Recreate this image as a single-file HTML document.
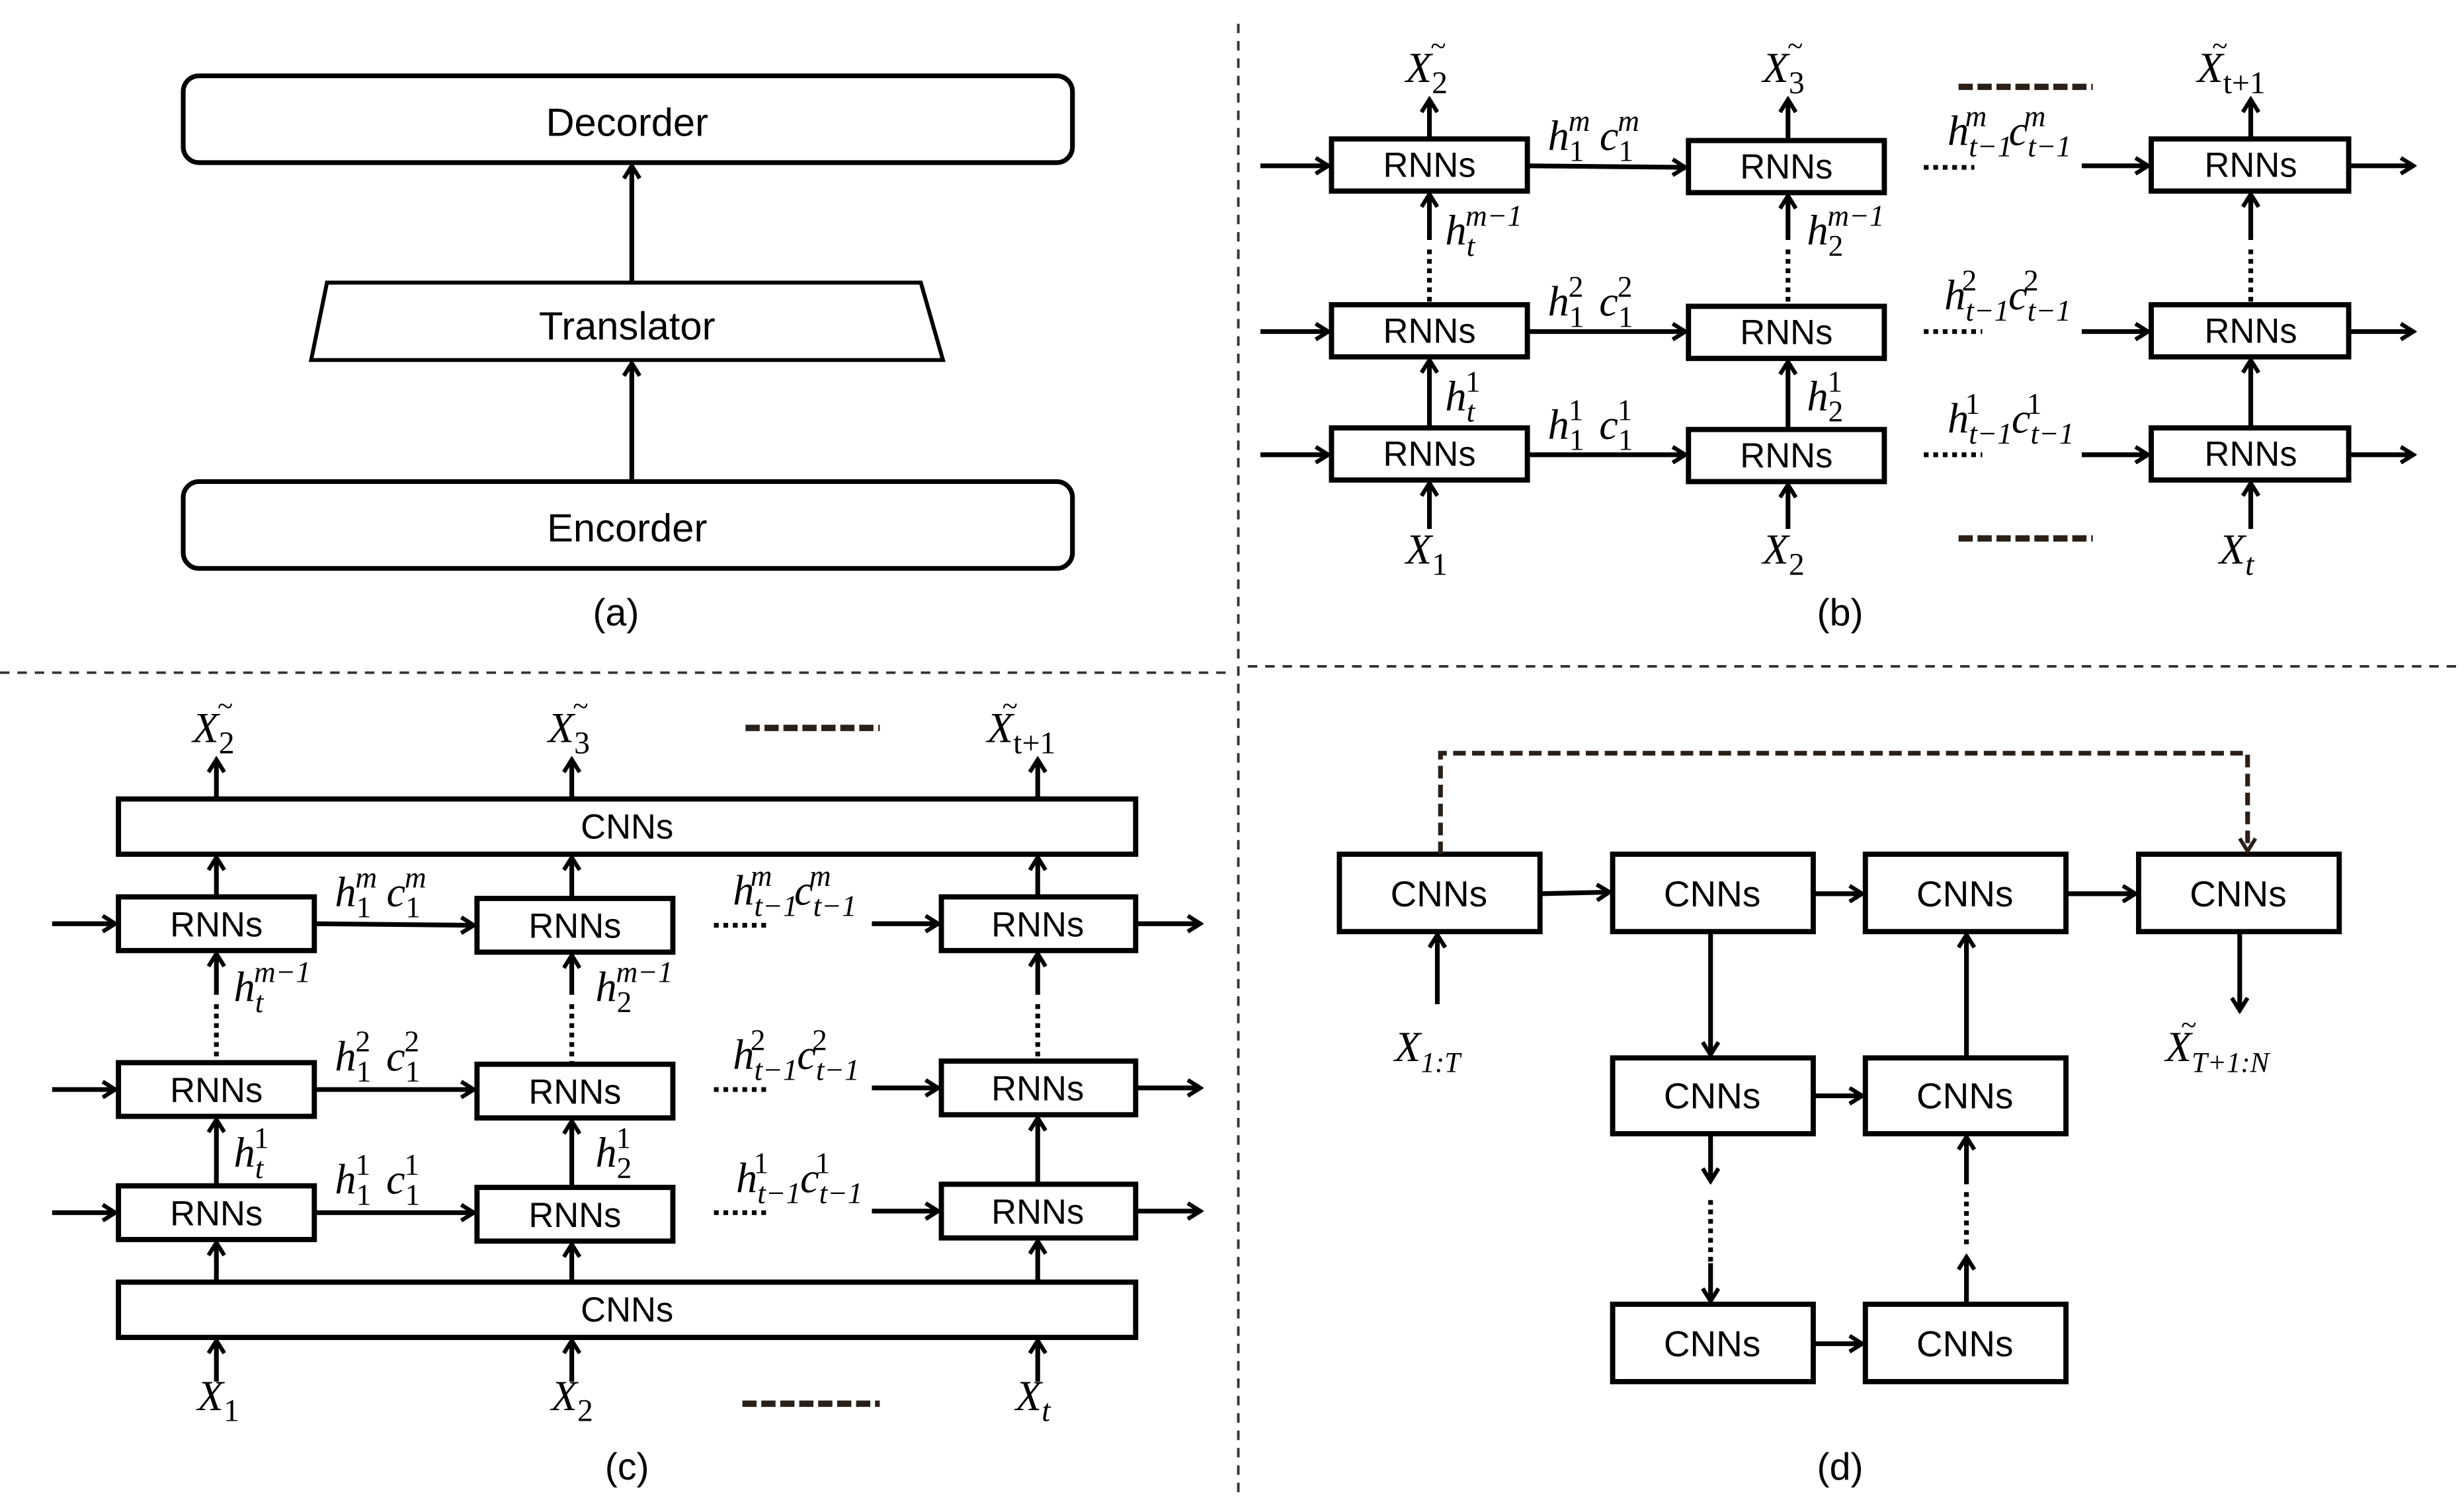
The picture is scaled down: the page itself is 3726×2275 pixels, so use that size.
<!DOCTYPE html>
<html><head><meta charset="utf-8"><style>
html,body{margin:0;padding:0;background:#fff;}
svg{display:block;}
text{font-family:"Liberation Sans",sans-serif;fill:#000;}
.m{font-family:"Liberation Serif",serif;font-style:italic;}
</style></head><body>
<svg width="3726" height="2275" viewBox="0 0 1560 952.5" xmlns="http://www.w3.org/2000/svg">
<defs>
<marker id="a" markerWidth="12" markerHeight="12" refX="10" refY="6" orient="auto" markerUnits="userSpaceOnUse">
<path d="M2,1 L10,6 L2,11" fill="none" stroke="#000" stroke-width="2.6"/>
</marker>
<marker id="ab" markerWidth="12" markerHeight="12" refX="10" refY="6" orient="auto" markerUnits="userSpaceOnUse">
<path d="M2,1 L10,6 L2,11" fill="none" stroke="#2a2018" stroke-width="2.4"/>
</marker>
</defs>
<g stroke="#000" stroke-width="3" fill="none">
<rect x="116" y="48" width="563" height="55" rx="10"/>
<rect x="116" y="305" width="563" height="55" rx="10"/>
<polygon points="207,179 583,179 597,228 197,228" stroke-width="2.5"/>
<line x1="400" y1="179" x2="400" y2="105" marker-end="url(#a)"/>
<line x1="400" y1="305" x2="400" y2="230" marker-end="url(#a)"/>
</g>
<text x="397" y="86" font-size="25" text-anchor="middle">Decorder</text>
<text x="397" y="215" font-size="25" text-anchor="middle">Translator</text>
<text x="397" y="343" font-size="25" text-anchor="middle">Encorder</text>
<text x="390" y="396" font-size="24" text-anchor="middle">(a)</text>

<g stroke="#333" stroke-width="1.6" stroke-dasharray="6,5" fill="none">
<line x1="784" y1="15" x2="784" y2="945"/>
<line x1="0" y1="426" x2="780" y2="426"/>
<line x1="790" y1="422" x2="1556" y2="422"/>
</g>

<!-- (b) -->
<g stroke="#000" stroke-width="3.3" fill="none">
<rect x="843" y="88" width="124" height="33"/><rect x="1069" y="89" width="124" height="33"/><rect x="1362" y="88" width="125" height="33"/>
<rect x="843" y="193" width="124" height="33"/><rect x="1069" y="194" width="124" height="33"/><rect x="1362" y="193" width="125" height="33"/>
<rect x="843" y="271" width="124" height="33"/><rect x="1069" y="272" width="124" height="33"/><rect x="1362" y="271" width="125" height="33"/>
</g>
<g stroke="#000" stroke-width="3" fill="none">
<line x1="798" y1="105" x2="841" y2="105" marker-end="url(#a)"/>
<line x1="798" y1="210" x2="841" y2="210" marker-end="url(#a)"/>
<line x1="798" y1="288" x2="841" y2="288" marker-end="url(#a)"/>
<line x1="967" y1="105" x2="1067" y2="106" marker-end="url(#a)"/>
<line x1="967" y1="210" x2="1067" y2="210" marker-end="url(#a)"/>
<line x1="967" y1="288" x2="1067" y2="288" marker-end="url(#a)"/>
<line x1="1318" y1="105" x2="1360" y2="105" marker-end="url(#a)"/>
<line x1="1318" y1="210" x2="1360" y2="210" marker-end="url(#a)"/>
<line x1="1318" y1="288" x2="1360" y2="288" marker-end="url(#a)"/>
<line x1="1487" y1="105" x2="1528" y2="105" marker-end="url(#a)"/>
<line x1="1487" y1="210" x2="1528" y2="210" marker-end="url(#a)"/>
<line x1="1487" y1="288" x2="1528" y2="288" marker-end="url(#a)"/>
<line x1="905" y1="88" x2="905" y2="63" marker-end="url(#a)"/>
<line x1="1132" y1="89" x2="1132" y2="63" marker-end="url(#a)"/>
<line x1="1425" y1="88" x2="1425" y2="63" marker-end="url(#a)"/>
<line x1="905" y1="152" x2="905" y2="123" marker-end="url(#a)"/>
<line x1="1132" y1="152" x2="1132" y2="124" marker-end="url(#a)"/>
<line x1="1425" y1="152" x2="1425" y2="123" marker-end="url(#a)"/>
<line x1="905" y1="271" x2="905" y2="228" marker-end="url(#a)"/>
<line x1="1132" y1="272" x2="1132" y2="229" marker-end="url(#a)"/>
<line x1="1425" y1="271" x2="1425" y2="228" marker-end="url(#a)"/>
<line x1="905" y1="335" x2="905" y2="306" marker-end="url(#a)"/>
<line x1="1132" y1="335" x2="1132" y2="307" marker-end="url(#a)"/>
<line x1="1425" y1="335" x2="1425" y2="306" marker-end="url(#a)"/>
</g>
<g stroke="#000" stroke-width="3" stroke-dasharray="3,3" fill="none">
<line x1="905" y1="158" x2="905" y2="192"/><line x1="1132" y1="158" x2="1132" y2="192"/><line x1="1425" y1="158" x2="1425" y2="192"/>
<line x1="1218" y1="106" x2="1250" y2="106"/><line x1="1218" y1="210" x2="1255" y2="210"/><line x1="1218" y1="288" x2="1255" y2="288"/>
</g>
<g stroke="#2a2018" stroke-width="4" stroke-dasharray="9,3" fill="none">
<line x1="1240" y1="55" x2="1325" y2="55"/><line x1="1240" y1="341" x2="1325" y2="341"/>
</g>
<g font-size="22" text-anchor="middle">
<text x="905" y="112">RNNs</text><text x="1131" y="113">RNNs</text><text x="1425" y="112">RNNs</text>
<text x="905" y="217">RNNs</text><text x="1131" y="218">RNNs</text><text x="1425" y="217">RNNs</text>
<text x="905" y="295">RNNs</text><text x="1131" y="296">RNNs</text><text x="1425" y="295">RNNs</text>
</g>
<g font-size="27">
<text class="m" x="890" y="52">X<tspan font-size="20" dy="7" font-style="normal">2</tspan><tspan font-size="18" dx="-11" dy="-24">~</tspan></text>
<text class="m" x="1116" y="52">X<tspan font-size="20" dy="7" font-style="normal">3</tspan><tspan font-size="18" dx="-11" dy="-24">~</tspan></text>
<text class="m" x="1391" y="52">X<tspan font-size="20" dy="7" font-style="normal">t+1</tspan><tspan font-size="18" dx="-34" dy="-24">~</tspan></text>
<text class="m" x="890" y="357">X<tspan font-size="20" dy="7" font-style="normal">1</tspan></text>
<text class="m" x="1116" y="357">X<tspan font-size="20" dy="7" font-style="normal">2</tspan></text>
<text class="m" x="1405" y="357">X<tspan font-size="20" dy="7">t</tspan></text>
<text class="m" x="980" y="95">h<tspan font-size="19" dy="7" font-style="normal">1</tspan><tspan font-size="19" dx="-10" dy="-19">m</tspan><tspan dx="6" dy="12">c</tspan><tspan font-size="19" dy="7" font-style="normal">1</tspan><tspan font-size="19" dx="-10" dy="-19">m</tspan></text>
<text class="m" x="980" y="200">h<tspan font-size="19" dy="7" font-style="normal">1</tspan><tspan font-size="19" dx="-10" dy="-19" font-style="normal">2</tspan><tspan dx="10" dy="12">c</tspan><tspan font-size="19" dy="7" font-style="normal">1</tspan><tspan font-size="19" dx="-10" dy="-19" font-style="normal">2</tspan></text>
<text class="m" x="980" y="278">h<tspan font-size="19" dy="7" font-style="normal">1</tspan><tspan font-size="19" dx="-10" dy="-19" font-style="normal">1</tspan><tspan dx="10" dy="12">c</tspan><tspan font-size="19" dy="7" font-style="normal">1</tspan><tspan font-size="19" dx="-10" dy="-19" font-style="normal">1</tspan></text>
<text class="m" x="915" y="155">h<tspan font-size="19" dy="7">t</tspan><tspan font-size="19" dx="-6" dy="-19">m−1</tspan></text>
<text class="m" x="1144" y="155">h<tspan font-size="19" dy="7" font-style="normal">2</tspan><tspan font-size="19" dx="-10" dy="-19">m−1</tspan></text>
<text class="m" x="915" y="260">h<tspan font-size="19" dy="7">t</tspan><tspan font-size="19" dx="-6" dy="-19" font-style="normal">1</tspan></text>
<text class="m" x="1144" y="260">h<tspan font-size="19" dy="7" font-style="normal">2</tspan><tspan font-size="19" dx="-10" dy="-19" font-style="normal">1</tspan></text>
<text class="m" x="1233" y="92">h<tspan font-size="19" dy="7">t−1</tspan><tspan font-size="19" dx="-30" dy="-19">m</tspan><tspan dx="14" dy="12">c</tspan><tspan font-size="19" dy="7">t−1</tspan><tspan font-size="19" dx="-30" dy="-19">m</tspan></text>
<text class="m" x="1231" y="196">h<tspan font-size="19" dy="7">t−1</tspan><tspan font-size="19" dx="-30" dy="-19" font-style="normal">2</tspan><tspan dx="20" dy="12">c</tspan><tspan font-size="19" dy="7">t−1</tspan><tspan font-size="19" dx="-30" dy="-19" font-style="normal">2</tspan></text>
<text class="m" x="1233" y="274">h<tspan font-size="19" dy="7">t−1</tspan><tspan font-size="19" dx="-30" dy="-19" font-style="normal">1</tspan><tspan dx="20" dy="12">c</tspan><tspan font-size="19" dy="7">t−1</tspan><tspan font-size="19" dx="-30" dy="-19" font-style="normal">1</tspan></text>
</g>
<text x="1165" y="396" font-size="24" text-anchor="middle">(b)</text>

<!-- (c) -->
<g stroke="#000" stroke-width="3.3" fill="none">
<rect x="75" y="506" width="644" height="35"/>
<rect x="75" y="812" width="644" height="35"/>
<rect x="75" y="568" width="124" height="34"/><rect x="302" y="569" width="124" height="34"/><rect x="596" y="568" width="123" height="34"/>
<rect x="75" y="673" width="124" height="34"/><rect x="302" y="674" width="124" height="34"/><rect x="596" y="672" width="123" height="34"/>
<rect x="75" y="751" width="124" height="34"/><rect x="302" y="752" width="124" height="34"/><rect x="596" y="750" width="123" height="34"/>
</g>
<g stroke="#000" stroke-width="3" fill="none">
<line x1="33" y1="585" x2="73" y2="585" marker-end="url(#a)"/>
<line x1="33" y1="690" x2="73" y2="690" marker-end="url(#a)"/>
<line x1="33" y1="768" x2="73" y2="768" marker-end="url(#a)"/>
<line x1="199" y1="585" x2="300" y2="586" marker-end="url(#a)"/>
<line x1="199" y1="690" x2="300" y2="690" marker-end="url(#a)"/>
<line x1="199" y1="768" x2="300" y2="768" marker-end="url(#a)"/>
<line x1="552" y1="585" x2="594" y2="585" marker-end="url(#a)"/>
<line x1="552" y1="689" x2="594" y2="689" marker-end="url(#a)"/>
<line x1="552" y1="767" x2="594" y2="767" marker-end="url(#a)"/>
<line x1="719" y1="585" x2="760" y2="585" marker-end="url(#a)"/>
<line x1="719" y1="689" x2="760" y2="689" marker-end="url(#a)"/>
<line x1="719" y1="767" x2="760" y2="767" marker-end="url(#a)"/>
<line x1="137" y1="506" x2="137" y2="481" marker-end="url(#a)"/>
<line x1="362" y1="506" x2="362" y2="481" marker-end="url(#a)"/>
<line x1="657" y1="506" x2="657" y2="481" marker-end="url(#a)"/>
<line x1="137" y1="568" x2="137" y2="543" marker-end="url(#a)"/>
<line x1="362" y1="569" x2="362" y2="543" marker-end="url(#a)"/>
<line x1="657" y1="568" x2="657" y2="543" marker-end="url(#a)"/>
<line x1="137" y1="630" x2="137" y2="604" marker-end="url(#a)"/>
<line x1="362" y1="630" x2="362" y2="605" marker-end="url(#a)"/>
<line x1="657" y1="630" x2="657" y2="604" marker-end="url(#a)"/>
<line x1="137" y1="751" x2="137" y2="709" marker-end="url(#a)"/>
<line x1="362" y1="752" x2="362" y2="710" marker-end="url(#a)"/>
<line x1="657" y1="750" x2="657" y2="708" marker-end="url(#a)"/>
<line x1="137" y1="812" x2="137" y2="787" marker-end="url(#a)"/>
<line x1="362" y1="812" x2="362" y2="788" marker-end="url(#a)"/>
<line x1="657" y1="812" x2="657" y2="786" marker-end="url(#a)"/>
<line x1="137" y1="875" x2="137" y2="849" marker-end="url(#a)"/>
<line x1="362" y1="875" x2="362" y2="849" marker-end="url(#a)"/>
<line x1="657" y1="875" x2="657" y2="849" marker-end="url(#a)"/>
</g>
<g stroke="#000" stroke-width="3" stroke-dasharray="3,3" fill="none">
<line x1="137" y1="636" x2="137" y2="672"/><line x1="362" y1="636" x2="362" y2="673"/><line x1="657" y1="636" x2="657" y2="671"/>
<line x1="452" y1="586" x2="485" y2="586"/><line x1="452" y1="690" x2="485" y2="690"/><line x1="452" y1="768" x2="485" y2="768"/>
</g>
<g stroke="#2a2018" stroke-width="4" stroke-dasharray="9,3" fill="none">
<line x1="472" y1="461" x2="557" y2="461"/><line x1="470" y1="889" x2="557" y2="889"/>
</g>
<g font-size="22" text-anchor="middle">
<text x="397" y="531">CNNs</text><text x="397" y="837">CNNs</text>
<text x="137" y="593">RNNs</text><text x="364" y="594">RNNs</text><text x="657" y="593">RNNs</text>
<text x="137" y="698">RNNs</text><text x="364" y="699">RNNs</text><text x="657" y="697">RNNs</text>
<text x="137" y="776">RNNs</text><text x="364" y="777">RNNs</text><text x="657" y="775">RNNs</text>
</g>
<g font-size="27">
<text class="m" x="122" y="470">X<tspan font-size="20" dy="7" font-style="normal">2</tspan><tspan font-size="18" dx="-11" dy="-24">~</tspan></text>
<text class="m" x="347" y="470">X<tspan font-size="20" dy="7" font-style="normal">3</tspan><tspan font-size="18" dx="-11" dy="-24">~</tspan></text>
<text class="m" x="625" y="470">X<tspan font-size="20" dy="7" font-style="normal">t+1</tspan><tspan font-size="18" dx="-34" dy="-24">~</tspan></text>
<text class="m" x="125" y="893">X<tspan font-size="20" dy="7" font-style="normal">1</tspan></text>
<text class="m" x="349" y="893">X<tspan font-size="20" dy="7" font-style="normal">2</tspan></text>
<text class="m" x="643" y="893">X<tspan font-size="20" dy="7">t</tspan></text>
<text class="m" x="212" y="574">h<tspan font-size="19" dy="7" font-style="normal">1</tspan><tspan font-size="19" dx="-10" dy="-19">m</tspan><tspan dx="6" dy="12">c</tspan><tspan font-size="19" dy="7" font-style="normal">1</tspan><tspan font-size="19" dx="-10" dy="-19">m</tspan></text>
<text class="m" x="212" y="678">h<tspan font-size="19" dy="7" font-style="normal">1</tspan><tspan font-size="19" dx="-10" dy="-19" font-style="normal">2</tspan><tspan dx="10" dy="12">c</tspan><tspan font-size="19" dy="7" font-style="normal">1</tspan><tspan font-size="19" dx="-10" dy="-19" font-style="normal">2</tspan></text>
<text class="m" x="212" y="756">h<tspan font-size="19" dy="7" font-style="normal">1</tspan><tspan font-size="19" dx="-10" dy="-19" font-style="normal">1</tspan><tspan dx="10" dy="12">c</tspan><tspan font-size="19" dy="7" font-style="normal">1</tspan><tspan font-size="19" dx="-10" dy="-19" font-style="normal">1</tspan></text>
<text class="m" x="148" y="634">h<tspan font-size="19" dy="7">t</tspan><tspan font-size="19" dx="-6" dy="-19">m−1</tspan></text>
<text class="m" x="377" y="634">h<tspan font-size="19" dy="7" font-style="normal">2</tspan><tspan font-size="19" dx="-10" dy="-19">m−1</tspan></text>
<text class="m" x="148" y="739">h<tspan font-size="19" dy="7">t</tspan><tspan font-size="19" dx="-6" dy="-19" font-style="normal">1</tspan></text>
<text class="m" x="377" y="739">h<tspan font-size="19" dy="7" font-style="normal">2</tspan><tspan font-size="19" dx="-10" dy="-19" font-style="normal">1</tspan></text>
<text class="m" x="464" y="573">h<tspan font-size="19" dy="7">t−1</tspan><tspan font-size="19" dx="-30" dy="-19">m</tspan><tspan dx="14" dy="12">c</tspan><tspan font-size="19" dy="7">t−1</tspan><tspan font-size="19" dx="-30" dy="-19">m</tspan></text>
<text class="m" x="464" y="677">h<tspan font-size="19" dy="7">t−1</tspan><tspan font-size="19" dx="-30" dy="-19" font-style="normal">2</tspan><tspan dx="20" dy="12">c</tspan><tspan font-size="19" dy="7">t−1</tspan><tspan font-size="19" dx="-30" dy="-19" font-style="normal">2</tspan></text>
<text class="m" x="466" y="755">h<tspan font-size="19" dy="7">t−1</tspan><tspan font-size="19" dx="-30" dy="-19" font-style="normal">1</tspan><tspan dx="20" dy="12">c</tspan><tspan font-size="19" dy="7">t−1</tspan><tspan font-size="19" dx="-30" dy="-19" font-style="normal">1</tspan></text>
</g>
<text x="397" y="937" font-size="24" text-anchor="middle">(c)</text>

<!-- (d) -->
<g stroke="#000" stroke-width="3.3" fill="none">
<rect x="848" y="541" width="127" height="49"/><rect x="1021" y="541" width="127" height="49"/><rect x="1181" y="541" width="127" height="49"/><rect x="1354" y="541" width="127" height="49"/>
<rect x="1021" y="670" width="127" height="48"/><rect x="1181" y="670" width="127" height="48"/>
<rect x="1021" y="826" width="127" height="49"/><rect x="1181" y="826" width="127" height="49"/>
</g>
<g stroke="#000" stroke-width="3" fill="none">
<line x1="975" y1="566" x2="1019" y2="565" marker-end="url(#a)"/>
<line x1="1148" y1="566" x2="1179" y2="566" marker-end="url(#a)"/>
<line x1="1308" y1="566" x2="1352" y2="566" marker-end="url(#a)"/>
<line x1="1148" y1="694" x2="1179" y2="694" marker-end="url(#a)"/>
<line x1="1148" y1="851" x2="1179" y2="851" marker-end="url(#a)"/>
<line x1="910" y1="636" x2="910" y2="592" marker-end="url(#a)"/>
<line x1="1418" y1="590" x2="1418" y2="640" marker-end="url(#a)"/>
<line x1="1083" y1="590" x2="1083" y2="668" marker-end="url(#a)"/>
<line x1="1245" y1="670" x2="1245" y2="592" marker-end="url(#a)"/>
<line x1="1083" y1="718" x2="1083" y2="748" marker-end="url(#a)"/>
<line x1="1083" y1="800" x2="1083" y2="824" marker-end="url(#a)"/>
<line x1="1245" y1="826" x2="1245" y2="796" marker-end="url(#a)"/>
<line x1="1245" y1="750" x2="1245" y2="720" marker-end="url(#a)"/>
</g>
<g stroke="#000" stroke-width="3" stroke-dasharray="3,3" fill="none">
<line x1="1083" y1="760" x2="1083" y2="800"/><line x1="1245" y1="755" x2="1245" y2="790"/>
</g>
<path d="M912,541 L912,477 L1423,477 L1423,539" stroke="#2a2018" stroke-width="3" stroke-dasharray="8,4" fill="none" marker-end="url(#ab)"/>
<g font-size="23" text-anchor="middle">
<text x="911" y="574">CNNs</text><text x="1084" y="574">CNNs</text><text x="1244" y="574">CNNs</text><text x="1417" y="574">CNNs</text>
<text x="1084" y="702">CNNs</text><text x="1244" y="702">CNNs</text>
<text x="1084" y="859">CNNs</text><text x="1244" y="859">CNNs</text>
</g>
<g font-size="27">
<text class="m" x="883" y="672">X<tspan font-size="18" dy="7">1:T</tspan></text>
<text class="m" x="1371" y="672">X<tspan font-size="18" dy="7">T+1:N</tspan><tspan font-size="18" dx="-56" dy="-24">~</tspan></text>
</g>
<text x="1165" y="937" font-size="24" text-anchor="middle">(d)</text>
</svg>
</body></html>
